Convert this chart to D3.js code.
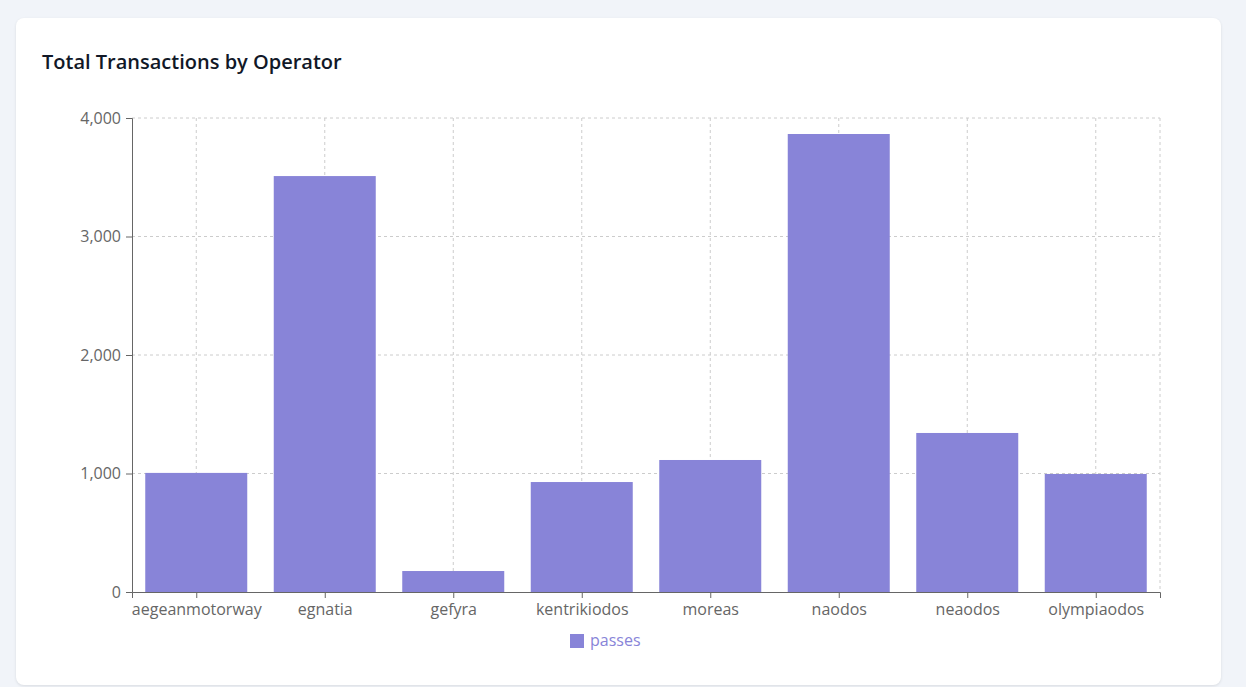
<!DOCTYPE html>
<html><head><meta charset="utf-8">
<script src="https://cdn.jsdelivr.net/npm/d3@7"></script>
<style>
body{margin:0;background:#f1f4f9;font-family:"Open Sans",sans-serif;}
.card{position:absolute;left:16px;top:18px;width:1205px;height:667px;background:#fff;border-radius:8px;box-shadow:0 1px 3px rgba(0,0,0,0.1);}
</style></head><body>
<div class="card"></div>
<svg id="c" width="1246" height="687" style="position:absolute;left:0;top:0"></svg>
<script>
const categories=["aegeanmotorway","egnatia","gefyra","kentrikiodos","moreas","naodos","neaodos","olympiaodos"];
const passes=[1005,3510,177,928,1114,3865,1342,996];
const yTicks=[0,1000,2000,3000,4000];
const svg=d3.select("#c");
const m={l:132,r:1160,t:118,b:592};
svg.append("text").attr("x",42).attr("y",69).attr("font-size",20).attr("font-weight",600).attr("fill","#111827").text("Total Transactions by Operator");
const x=d3.scaleBand().domain(categories).range([m.l,m.r]).paddingInner(0.2).paddingOuter(0.1);
const xc=d3.scalePoint().domain(categories).range([m.l,m.r]).padding(0.5);
const y=d3.scaleLinear().domain([0,4000]).range([m.b,m.t]);
const g=svg.append("g");
yTicks.forEach(t=>{if(t>0)g.append("line").attr("x1",m.l).attr("x2",m.r).attr("y1",y(t)).attr("y2",y(t)).attr("stroke","#ccc").attr("stroke-dasharray","3 3");});
categories.forEach(c=>g.append("line").attr("x1",xc(c)).attr("x2",xc(c)).attr("y1",m.t).attr("y2",m.b).attr("stroke","#ccc").attr("stroke-dasharray","3 3"));
g.append("line").attr("x1",m.r).attr("x2",m.r).attr("y1",m.t).attr("y2",m.b).attr("stroke","#ccc").attr("stroke-dasharray","3 3");
const bw=102;
svg.selectAll("rect.b").data(passes).join("rect").attr("fill","#8884d8")
 .attr("x",(d,i)=>xc(categories[i])-bw/2).attr("width",bw).attr("y",d=>y(d)).attr("height",d=>m.b-y(d));
const ya=svg.append("g").attr("transform",`translate(${m.l},0)`).call(d3.axisLeft(y).tickValues(yTicks).tickFormat(d3.format(",")).tickSize(6));
const xa=svg.append("g").attr("transform",`translate(0,${m.b})`).call(d3.axisBottom(xc).tickSize(6));
[ya,xa].forEach(a=>{a.select(".domain").attr("stroke","#666");a.selectAll(".tick line").attr("stroke","#666");a.selectAll("text").attr("fill","#666").attr("font-size",16).attr("font-family","Open Sans, sans-serif");});
ya.selectAll("text").attr("dx",-2);
xa.selectAll("text").attr("dy","0.9em");
svg.append("rect").attr("x",570).attr("y",634).attr("width",14).attr("height",14).attr("fill","#8884d8");
svg.append("text").attr("x",590).attr("y",646).attr("font-size",16).attr("fill","#8884d8").text("passes");
</script></body></html>
